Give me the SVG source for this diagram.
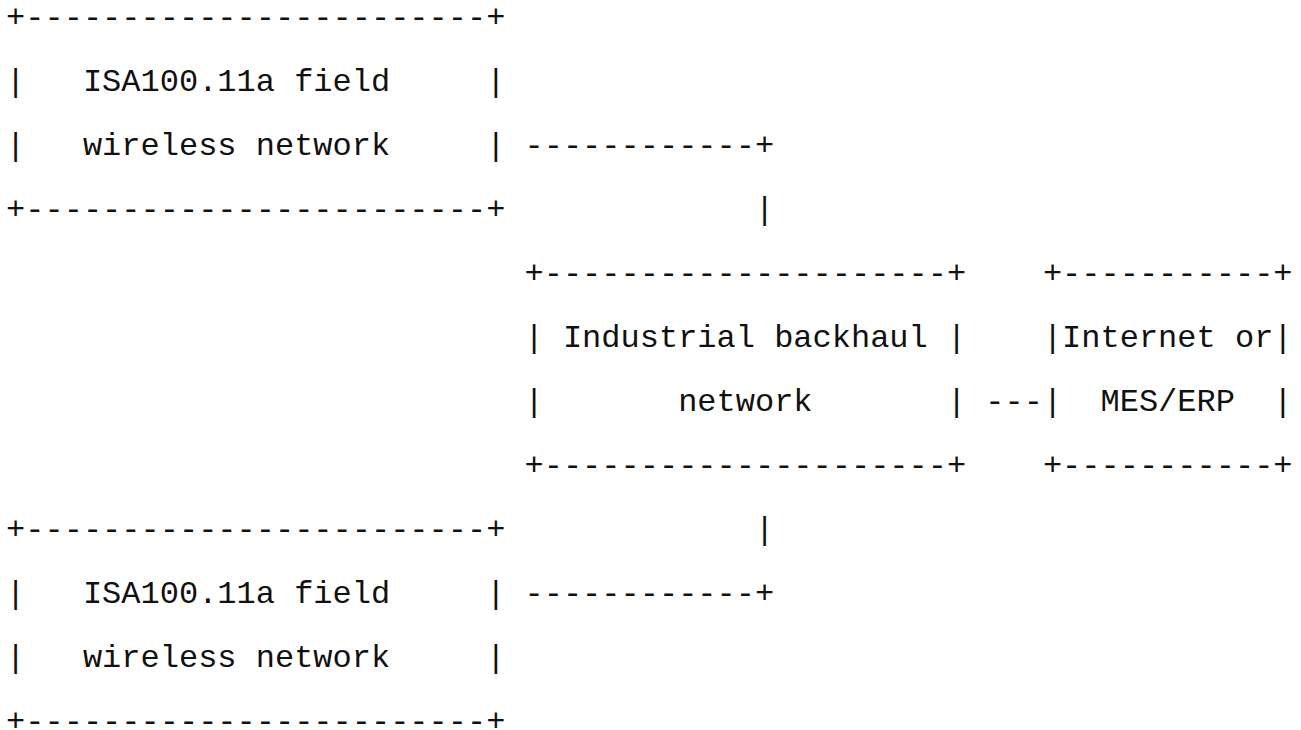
<svg xmlns="http://www.w3.org/2000/svg" width="1301" height="730" viewBox="0 0 1301 730">
<style>
text { font-family: "Liberation Mono", "Courier New", monospace; font-size: 32px; fill: #111; white-space: pre; }
</style>
<rect width="1301" height="730" fill="#fff"/>
<g id="field-network-1">
<text xml:space="preserve" x="6.1" y="26.8">+------------------------+</text>
<text xml:space="preserve" x="6.1" y="90.85">|   ISA100.11a field     |</text>
<text xml:space="preserve" x="6.1" y="154.9">|   wireless network     |</text>
<text xml:space="preserve" x="6.1" y="218.95">+------------------------+</text>
</g>
<g id="backhaul">
<text xml:space="preserve" x="524.5" y="283">+---------------------+</text>
<text xml:space="preserve" x="524.5" y="347.05">| Industrial backhaul |</text>
<text xml:space="preserve" x="524.5" y="411.1">|       network       |</text>
<text xml:space="preserve" x="524.5" y="475.15">+---------------------+</text>
</g>
<g id="mes-erp">
<text xml:space="preserve" x="1042.9" y="283">+-----------+</text>
<text xml:space="preserve" x="1042.9" y="347.05">|Internet or|</text>
<text xml:space="preserve" x="1042.9" y="411.1">|  MES/ERP  |</text>
<text xml:space="preserve" x="1042.9" y="475.15">+-----------+</text>
</g>
<g id="field-network-2">
<text xml:space="preserve" x="6.1" y="539.2">+------------------------+</text>
<text xml:space="preserve" x="6.1" y="603.25">|   ISA100.11a field     |</text>
<text xml:space="preserve" x="6.1" y="667.3">|   wireless network     |</text>
<text xml:space="preserve" x="6.1" y="731.35">+------------------------+</text>
</g>
<g id="connectors">
<text xml:space="preserve" x="524.5" y="154.9">------------+</text>
<text xml:space="preserve" x="754.9" y="218.95">|</text>
<text xml:space="preserve" x="985.3" y="411.1">---</text>
<text xml:space="preserve" x="754.9" y="539.2">|</text>
<text xml:space="preserve" x="524.5" y="603.25">------------+</text>
</g>
</svg>
